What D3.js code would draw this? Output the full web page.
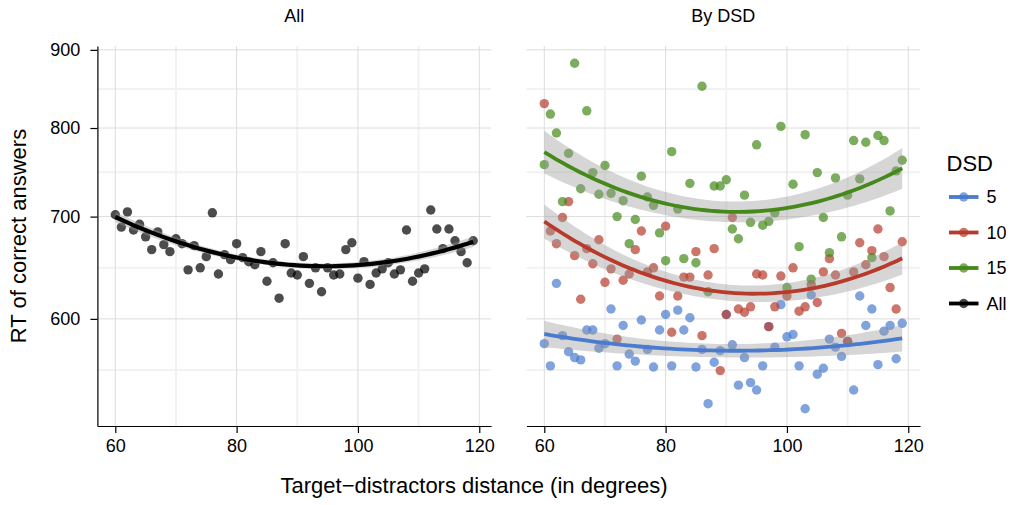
<!DOCTYPE html>
<html><head><meta charset="utf-8">
<script src="https://cdn.jsdelivr.net/npm/d3@7"></script>
<style>
body{margin:0;background:#fff;}
text{font-family:"Liberation Sans",Arial,Helvetica,sans-serif;fill:#000;}
</style>
</head><body>
<svg id="chart" width="1017" height="505"></svg>
<script>
// ---------------- data ----------------
const distance = [60,61,62,63,64,65,66,67,68,69,70,71,72,73,74,75,76,77,78,79,
  80,81,82,83,84,85,86,87,88,89,90,91,92,93,94,95,96,97,98,99,
  100,101,102,103,104,105,106,107,108,109,110,111,112,113,114,115,116,117,118,119];

const rtAll = [702,689,705,686,692,679,666,684,671,664,677,672,646,670,648,659,704,642,661,656,
  672,658,654,651,664,635,653,619,672,643,641,659,633,648,625,648,641,642,666,673,
  638,654,632,643,647,653,642,646,686,635,643,647,707,687,667,687,675,664,653,675];

const rtDSD5 = [578,559,633,585,571,566,564,590,590,574,578,609,559,594,569,563,599,573,558,590,
  604,559,608,590,601,558,573,528,562,572,604,577,543,566,545,539,559,593,575,613,
  584,586,559,524,622,552,557,582,575,567,580,539,621,594,609,560,589,594,565,596];

const rtDSD10 = [830,685,672,699,716,660,618,667,652,676,634,647,582,636,642,666,685,644,648,621,
  690,588,621,639,639,664,585,641,667,555,604,699,609,606,611,642,641,593,611,640,
  621,648,607,611,632,615,644,657,641,587,580,644,673,651,665,687,659,629,609,674];

const rtDSD15 = [757,817,794,716,770,882,730,821,748,724,756,725,700,717,672,697,744,721,712,683,
  655,772,708,657,736,653,852,625,733,733,740,687,677,723,694,780,691,695,704,802,
  629,735,669,792,637,748,699,663,742,679,723,785,741,783,658,791,785,706,750,762];

// quadratic smooth (lm, y ~ poly(x,2)) and its 95% band
const smoothX = [60, 70, 80, 90, 100, 110, 119];
const smoothAll   = [696.1, 679.5, 659.9, 647.0, 649.7, 659.0, 675.0];
const smoothAllLo = [690.3, 675.9, 656.9, 644.0, 646.8, 655.7, 669.4];
const smoothAllHi = [701.9, 683.0, 662.9, 650.0, 652.7, 662.7, 680.7];
const smooth5   = [586.3, 578.9, 574.0, 571.7, 572.6, 576.9, 582.7];
const smooth5Lo = [574.6, 571.1, 567.6, 565.4, 566.1, 569.1, 570.7];
const smooth5Hi = [598.2, 586.8, 580.6, 578.0, 579.1, 584.8, 595.0];
const smooth10   = [693.3, 660.9, 637.1, 621.2, 623.1, 640.3, 655.9];
const smooth10Lo = [675.2, 650.0, 628.5, 612.8, 614.7, 629.7, 639.8];
const smooth10Hi = [711.9, 672.0, 645.8, 629.7, 631.6, 651.0, 672.5];
const smooth15   = [770.6, 738.3, 712.7, 702.1, 710.3, 729.1, 750.7];
const smooth15Lo = [745.4, 723.4, 700.5, 689.5, 698.0, 714.4, 727.2];
const smooth15Hi = [796.7, 753.5, 725.3, 714.9, 722.7, 744.1, 774.9];

const dsdLevels = ["5", "10", "15"];
const legendLabels = ["5", "10", "15", "All"];
const xTicks = [60, 80, 100, 120];
const yTicks = [600, 700, 800, 900];
const panelTitles = ["All", "By DSD"];

// ---------------- styles ----------------
const colors = {"5": "#4a7bcf", "10": "#b73a2b", "15": "#45891a", "All": "#000000"};
const points = {"5": rtDSD5, "10": rtDSD10, "15": rtDSD15, "All": rtAll};
const smooths = {
  "All": [smoothAll, smoothAllLo, smoothAllHi],
  "5": [smooth5, smooth5Lo, smooth5Hi],
  "10": [smooth10, smooth10Lo, smooth10Hi],
  "15": [smooth15, smooth15Lo, smooth15Hi]
};

const svg = d3.select("#chart");
const panelTop = 46, panelBottom = 426;
const panels = [{x0: 97.4, x1: 491.1}, {x0: 526.4, x1: 920.1}];
const FONT = "Liberation Sans, Arial, sans-serif";

// least-squares parabola (in log space) through the read smooth values
function parabola(xs, vs) {
  const mx = d3.mean(xs);
  const ly = vs.map(v => Math.log10(v));
  const M = [[0,0,0],[0,0,0],[0,0,0]], r = [0,0,0];
  xs.forEach((xv, i) => {
    const u = xv - mx, row = [1, u, u * u];
    for (let a = 0; a < 3; a++) { r[a] += row[a] * ly[i]; for (let b = 0; b < 3; b++) M[a][b] += row[a] * row[b]; }
  });
  // gaussian elimination
  const A = M.map((row, i) => row.concat([r[i]]));
  for (let c = 0; c < 3; c++) {
    for (let rr = c + 1; rr < 3; rr++) {
      const f = A[rr][c] / A[c][c];
      for (let k = c; k < 4; k++) A[rr][k] -= f * A[c][k];
    }
  }
  const b = [0,0,0];
  for (let c = 2; c >= 0; c--) {
    let s = A[c][3];
    for (let k = c + 1; k < 3; k++) s -= A[c][k] * b[k];
    b[c] = s / A[c][c];
  }
  return xv => { const u = xv - mx; return Math.pow(10, b[0] + b[1] * u + b[2] * u * u); };
}

// ---------------- scales ----------------
const xExt = d3.extent(distance);
const xPad = (xExt[1] - xExt[0]) * 0.05;
const allVals = rtAll.concat(rtDSD5, rtDSD10, rtDSD15);
const lext = d3.extent(allVals).map(Math.log10);
const lpad = (lext[1] - lext[0]) * 0.05;
const y = d3.scaleLog().domain([Math.pow(10, lext[0] - lpad), Math.pow(10, lext[1] + lpad)])
  .range([panelBottom, panelTop]);
const xScales = panels.map(p => d3.scaleLinear().domain([xExt[0] - xPad, xExt[1] + xPad]).range([p.x0, p.x1]));

const xMinor = [];
for (let i = 0; i < xTicks.length - 1; i++) xMinor.push((xTicks[i] + xTicks[i + 1]) / 2);
const yMinor = [yTicks[0] * Math.sqrt(yTicks[0] / yTicks[1])];
for (let i = 0; i < yTicks.length - 1; i++) yMinor.push(Math.sqrt(yTicks[i] * yTicks[i + 1]));
const yDom = y.domain();
const inY = v => v > yDom[0] && v < yDom[1];

const grid = d3.range(0, 61).map(i => xExt[0] + (xExt[1] - xExt[0]) * i / 60);

// ---------------- panels ----------------
panels.forEach((p, pi) => {
  const x = xScales[pi];
  const g = svg.append("g");
  g.selectAll(".ymin").data(yMinor.filter(inY)).enter().append("line")
    .attr("x1", p.x0).attr("x2", p.x1).attr("y1", d => y(d)).attr("y2", d => y(d))
    .attr("stroke", "#f2f2f2").attr("stroke-width", 2);
  g.selectAll(".xmin").data(xMinor).enter().append("line")
    .attr("y1", panelTop).attr("y2", panelBottom).attr("x1", d => x(d)).attr("x2", d => x(d))
    .attr("stroke", "#f2f2f2").attr("stroke-width", 2);
  g.selectAll(".ymaj").data(yTicks.filter(inY)).enter().append("line")
    .attr("x1", p.x0).attr("x2", p.x1).attr("y1", d => y(d)).attr("y2", d => y(d))
    .attr("stroke", "#dcdcdc").attr("stroke-width", 1);
  g.selectAll(".xmaj").data(xTicks).enter().append("line")
    .attr("y1", panelTop).attr("y2", panelBottom).attr("x1", d => x(d)).attr("x2", d => x(d))
    .attr("stroke", "#dcdcdc").attr("stroke-width", 1);

  const keys = pi === 0 ? ["All"] : dsdLevels;
  keys.forEach(k => {
    g.append("g").selectAll("circle").data(distance.map((d, i) => ({x: d, y: points[k][i]})))
      .enter().append("circle")
      .attr("cx", d => x(d.x)).attr("cy", d => y(d.y)).attr("r", 4.7)
      .attr("fill", colors[k]).attr("fill-opacity", 0.7);
  });
  keys.forEach(k => {
    const [, lo, hi] = smooths[k];
    const fLo = parabola(smoothX, lo), fHi = parabola(smoothX, hi);
    g.append("path").datum(grid)
      .attr("d", d3.area().x(d => x(d)).y0(d => y(fLo(d))).y1(d => y(fHi(d))))
      .attr("fill", "#999999").attr("fill-opacity", 0.4);
  });
  keys.forEach(k => {
    const f = parabola(smoothX, smooths[k][0]);
    g.append("path").datum(grid)
      .attr("d", d3.line().x(d => x(d)).y(d => y(f(d))))
      .attr("fill", "none").attr("stroke", colors[k]).attr("stroke-width", k === "All" ? 4.2 : 3.8);
  });

  const xa = svg.append("g").attr("transform", `translate(0,${panelBottom})`)
    .call(d3.axisBottom(x).tickValues(xTicks).tickSize(7).tickSizeOuter(0).tickPadding(6));
  xa.select(".domain").attr("stroke", "#000").attr("stroke-width", 1.2);
  xa.selectAll(".tick line").attr("stroke", "#000").attr("stroke-width", 1.2);
  xa.selectAll(".tick text").attr("font-size", "18px").attr("font-family", FONT).attr("fill", "#000");

  if (pi === 0) {
    const ya = svg.append("g").attr("transform", `translate(${p.x0},0)`)
      .call(d3.axisLeft(y).tickValues(yTicks).tickFormat(d3.format("d")).tickSize(7).tickSizeOuter(0).tickPadding(10));
    ya.select(".domain").attr("stroke", "#000").attr("stroke-width", 1.2);
    ya.selectAll(".tick line").attr("stroke", "#000").attr("stroke-width", 1.2);
    ya.selectAll(".tick text").attr("font-size", "18px").attr("font-family", FONT).attr("fill", "#000");
  }

  svg.append("text").attr("x", (p.x0 + p.x1) / 2).attr("y", 22)
    .attr("text-anchor", "middle").attr("font-size", "18px").text(panelTitles[pi]);
});

// axis titles
svg.append("text").attr("x", 474).attr("y", 493).attr("text-anchor", "middle")
  .attr("font-size", "22px").text("Target\u2212distractors distance (in degrees)");
svg.append("text").attr("transform", "translate(26,236) rotate(-90)").attr("text-anchor", "middle")
  .attr("font-size", "22px").text("RT of correct answers");

// legend
const lg = svg.append("g");
lg.append("text").attr("x", 946.5).attr("y", 170.5).attr("font-size", "22px").text("DSD");
legendLabels.forEach((k, i) => {
  const cy = 197 + i * 35.5;
  lg.append("line").attr("x1", 949).attr("x2", 978.5).attr("y1", cy).attr("y2", cy)
    .attr("stroke", colors[k]).attr("stroke-width", 3.8);
  lg.append("circle").attr("cx", 963.7).attr("cy", cy).attr("r", 4.7)
    .attr("fill", colors[k]).attr("fill-opacity", 0.7);
  lg.append("text").attr("x", 986.5).attr("y", cy + 6.4).attr("font-size", "18px").text(k);
});
</script>
</body></html>
